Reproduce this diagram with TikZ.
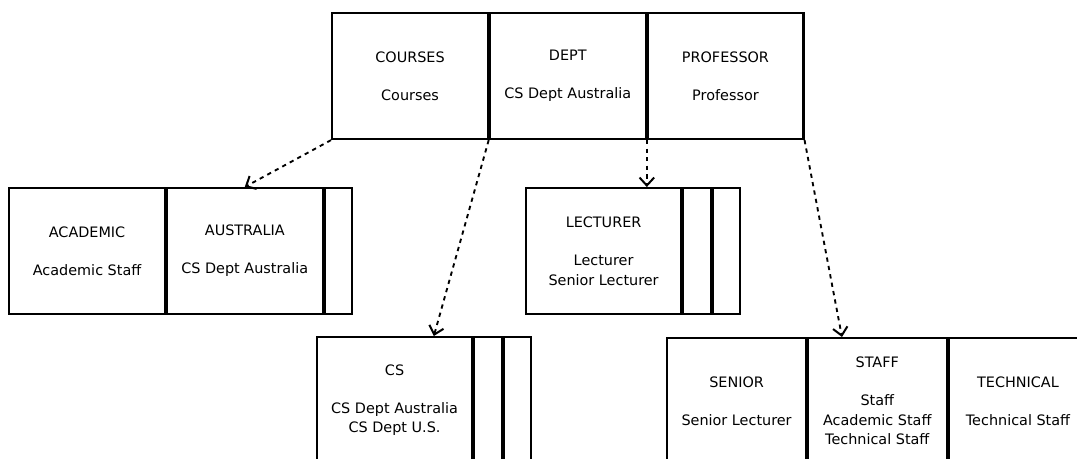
\documentclass[tikz,border=0pt]{standalone}
\usepackage{fontspec}
\setmainfont{DejaVu Sans}
\usetikzlibrary{arrows.meta,calc}

\begin{document}
\begin{tikzpicture}[x=0.75pt, y=-0.75pt,
	tbl/.style={draw, line width=1.6pt, anchor=north west, inner sep=0pt,
		minimum height=94.5pt, align=center, font=\fontsize{10.8}{14.6}\selectfont},
	link/.style={line width=1.4pt, dash pattern=on 3.2pt off 3.2pt, -{Straight Barb[length=6pt,width=11pt,line width=1.5pt]}}]
	\clip (0,0) rectangle (1077,459);
	% top row
	\node[tbl, minimum width=117pt] (courses) at (331,12) {COURSES\\[14pt]Courses};
	\node[tbl, minimum width=117pt] (dept) at (488.7,12) {DEPT\\[14pt]CS Dept Australia};
	\node[tbl, minimum width=117pt] (prof) at (646.4,12) {PROFESSOR\\[14pt]Professor};
	% second row
	\node[tbl, minimum width=117pt] (academic) at (8,187) {ACADEMIC\\[14pt]Academic Staff};
	\node[tbl, minimum width=117pt] (australia) at (165.7,187) {AUSTRALIA\\[14pt]CS Dept Australia};
	\node[tbl, minimum width=20.7pt] (australiaext) at (323.4,187) {};
	\node[tbl, minimum width=116.25pt] (lecturer) at (525,187) {LECTURER\\[14pt]Lecturer\\Senior Lecturer};
	\node[tbl, minimum width=21.2pt] (lecturerexta) at (681.7,187) {};
	\node[tbl, minimum width=20.5pt] (lecturerextb) at (711.7,187) {};
	% bottom row
	\node[tbl, minimum width=116.25pt] (cs) at (316,336) {CS\\[14pt]CS Dept Australia\\CS Dept U.S.};
	\node[tbl, minimum width=21.2pt] (csexta) at (472.7,336) {};
	\node[tbl, minimum width=20.5pt] (csextb) at (502.7,336) {};
	\node[tbl, minimum width=104.25pt] (senior) at (666,337) {SENIOR\\[14pt]Senior Lecturer};
	\node[tbl, minimum width=104.25pt] (staff) at (806.7,337) {STAFF\\[14pt]Staff\\Academic Staff\\Technical Staff};
	\node[tbl, minimum width=104.25pt] (technical) at (947.4,337) {TECHNICAL\\[14pt]Technical Staff};
	% links
	\draw[link] (courses.south west) -- (australia.north);
	\draw[link] (dept.south west) -- ($(cs.north west)!0.75!(cs.north east)$);
	\draw[link] (dept.south east) -- (dept.south east |- lecturer.north);
	\draw[link] (prof.south east) -- ($(staff.north west)!0.25!(staff.north east)$);
\end{tikzpicture}
\end{document}
